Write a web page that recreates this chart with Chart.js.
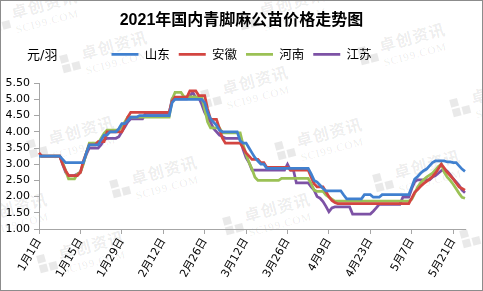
<!DOCTYPE html>
<html>
<head>
<meta charset="utf-8">
<script src="https://cdn.jsdelivr.net/npm/chart.js@4/dist/chart.umd.min.js"></script>
<style>
html,body{margin:0;padding:0;background:#fff;}
#wrap{position:relative;width:483px;height:291px;overflow:hidden;background:#fff;}
#wm{position:absolute;left:0;top:0;width:483px;height:291px;}
canvas{position:absolute;left:0;top:0;}
#frame{position:absolute;left:0;top:0;width:483px;height:291px;box-sizing:border-box;border:1px solid #8c8c8c;pointer-events:none;}
#unit{position:absolute;left:27px;top:44px;font:13px "DejaVu Sans","Noto Sans CJK SC",sans-serif;color:#000;}
.u{position:absolute;transform:translate(-50%,-50%) rotate(-15deg);white-space:nowrap;color:rgba(0,0,0,0.085);}
.u .ic{display:inline-block;width:18px;height:18px;vertical-align:middle;margin-right:4px;background:
 linear-gradient(rgba(0,0,0,0.085),rgba(0,0,0,0.085)) 0 0/8px 8px no-repeat,
 linear-gradient(rgba(0,0,0,0.085),rgba(0,0,0,0.085)) 0 10px/8px 8px no-repeat,
 linear-gradient(rgba(0,0,0,0.085),rgba(0,0,0,0.085)) 10px 10px/8px 8px no-repeat;}
.u .t{display:inline-block;vertical-align:middle;line-height:1;}
.u .a{font:bold 16px "Noto Sans CJK SC",sans-serif;letter-spacing:1px;}
.u .b{font:11px "Liberation Serif",serif;letter-spacing:1px;}
</style>
</head>
<body>
<div id="wrap">
  <div id="wm"></div>
  <canvas id="c" width="483" height="291"></canvas>
  <div id="unit">元/羽</div>
  <div id="frame"></div>
</div>
<script>
// ---- data ----
const seriesNames = ['山东', '安徽', '河南', '江苏'];
const tickLabels = ['1月1日','1月15日','1月29日','2月12日','2月26日','3月12日','3月26日','4月9日','4月23日','5月7日','5月21日'];
const yTicks = [1.00, 5.50, 0.50]; // min, max, step

const monthLen = [31, 28, 31, 30, 31];
const categories = [];
for (let m = 0; m < monthLen.length && categories.length < 145; m++)
  for (let d = 1; d <= monthLen[m] && categories.length < 145; d++)
    categories.push((m + 1) + '月' + d + '日');

const shandong = [
3.25,3.25,3.25,3.25,3.25,3.25,3.25,3.25,
3.15,
3.05,3.05,3.05,3.05,3.05,3.05,3.05,
3.35,
3.6,3.6,3.6,3.6,
3.75,
3.9,3.9,
4.0,4.0,4.0,
4.1,
4.25,4.25,
4.35,
4.45,4.45,4.45,
4.5,4.5,4.5,4.5,4.5,4.5,4.5,4.5,4.5,4.5,4.5,
4.9,
5.0,5.0,5.0,5.0,5.0,5.0,5.0,5.0,5.0,5.0,
4.9,4.6,4.4,4.3,4.2,4.05,
4.0,4.0,4.0,4.0,4.0,4.0,
3.72,3.65,3.65,3.5,3.35,3.2,3.1,3.0,3.0,
2.87,2.87,2.87,2.87,2.87,2.87,2.87,2.87,2.87,2.87,2.87,2.87,2.87,2.87,2.87,
2.7,2.5,2.45,2.35,2.25,
2.18,2.18,2.18,2.18,2.18,2.18,
2.05,
1.93,1.93,1.93,1.93,1.93,1.93,
2.06,2.06,2.06,
1.98,1.98,1.98,
2.06,2.06,2.06,2.06,2.06,2.06,2.06,2.06,2.06,2.06,
2.3,2.54,2.62,2.72,2.8,2.85,2.95,3.05,
3.1,3.1,3.1,3.1,
3.07,3.07,3.05,3.05,2.95,2.85,2.78
];

const anhui = [
3.35,
3.25,3.25,3.25,3.25,3.25,3.25,3.25,
3.0,2.8,
2.65,2.65,2.65,2.65,
2.75,3.1,3.35,
3.6,3.6,3.6,
3.7,3.7,3.7,
4.0,4.0,4.0,4.0,4.0,4.0,
4.2,4.45,
4.6,4.6,4.6,4.6,4.6,4.6,4.6,4.6,4.6,4.6,4.6,4.6,4.6,4.6,
4.95,
5.07,5.07,5.07,5.07,5.07,
5.26,5.26,5.26,
5.12,5.12,5.12,
4.7,
4.38,4.38,4.38,
4.1,3.8,
3.65,3.65,3.65,3.65,3.65,3.65,
3.5,3.35,3.25,
3.15,3.15,3.15,
3.05,3.05,
2.9,2.9,2.9,2.9,2.9,2.9,2.9,2.9,
2.82,2.82,2.82,2.82,2.82,2.82,2.82,
2.6,2.4,
2.3,2.3,2.3,
2.15,2.0,1.88,1.82,
1.78,1.78,1.78,1.78,1.78,1.78,1.78,1.78,1.78,1.78,1.78,1.78,1.78,1.78,1.78,1.78,1.78,1.78,1.78,1.78,1.78,1.78,1.78,1.78,1.78,
1.95,2.13,2.22,2.32,2.4,2.47,2.54,2.62,2.72,2.86,3.0,2.88,2.75,2.65,2.55,2.42,2.3,2.25,2.2
];

const henan = [
3.25,3.25,3.25,3.25,3.25,3.25,3.25,3.25,
3.05,2.8,
2.55,2.55,2.55,
2.7,2.75,3.0,3.35,
3.65,3.65,3.65,3.65,
3.8,3.95,
4.05,4.05,4.05,4.05,4.05,
4.15,4.3,
4.45,4.45,4.45,4.45,4.45,4.45,4.45,4.45,4.45,4.45,4.45,4.45,4.45,4.45,4.45,
5.0,
5.22,5.22,5.22,
5.08,5.08,5.08,5.08,5.08,5.08,5.08,
4.7,4.3,
4.12,4.12,4.12,4.12,
3.97,3.97,3.97,3.97,3.97,3.97,3.97,
3.6,3.3,3.05,2.85,2.6,
2.5,2.5,2.5,2.5,2.5,2.5,2.5,2.5,
2.56,2.56,2.56,2.56,2.56,2.56,2.56,2.56,2.56,2.56,
2.4,2.2,
2.16,2.16,2.16,
2.05,1.98,1.92,
1.86,1.86,1.86,1.86,1.86,1.86,1.86,1.86,1.86,1.86,1.86,1.86,1.86,1.86,1.86,1.86,1.86,1.86,1.86,1.86,1.86,1.86,1.86,1.86,1.86,1.86,
1.92,2.1,2.3,2.42,2.52,2.6,2.66,2.72,2.82,2.93,3.0,2.75,2.6,2.5,2.38,2.24,2.1,1.98,1.95
];

const jiangsu = [
3.25,3.25,3.25,3.25,3.25,3.25,3.25,3.25,
3.0,2.75,
2.65,2.65,2.65,
2.7,2.75,3.05,3.3,
3.5,3.5,3.5,3.5,
3.6,3.75,
3.8,3.8,3.8,3.8,
3.85,4.0,4.15,4.3,
4.4,4.4,4.4,4.4,4.4,
4.57,4.57,4.57,4.57,4.57,4.57,4.57,4.57,4.57,
5.02,5.02,5.02,5.02,5.02,5.02,
5.1,5.22,
5.05,5.05,
4.85,4.6,4.45,4.3,4.1,4.0,3.9,3.85,
3.8,3.8,3.8,3.8,3.8,3.8,
3.45,3.2,3.05,
2.82,2.82,2.82,2.82,2.82,2.82,2.82,2.82,2.82,2.82,2.82,2.82,
3.0,
2.82,2.82,
2.42,2.42,2.42,2.42,2.42,
2.3,2.2,2.0,1.95,1.85,1.7,1.53,
1.65,
1.68,1.68,1.68,1.68,1.68,1.68,
1.46,1.46,1.46,1.46,1.46,1.46,1.46,
1.55,1.65,
1.76,1.76,1.76,1.76,1.76,1.76,1.76,1.76,
1.98,1.98,1.98,
2.25,2.45,
2.52,2.52,2.52,2.52,2.52,
2.6,2.65,2.72,2.8,2.85,2.78,2.68,2.55,2.45,2.35,2.2,2.12
];

const seriesValues = [shandong, anhui, henan, jiangsu];
const seriesColors = ['#4080CF', '#D34541', '#9BC155', '#7D52A5'];

// ---- watermark ----
const wmCenters = [[35,12],[283,10],[105,53],[403,45],[246,88],[495,97],[72,138],[320,140],[155,178],[418,172],[5,215],[268,215],[505,228],[82,253]];
const wm = document.getElementById('wm');
wmCenters.forEach(([x, y]) => {
  const d = document.createElement('div');
  d.className = 'u';
  d.style.left = x + 'px';
  d.style.top = y + 'px';
  d.innerHTML = '<span class="ic"></span><span class="t"><div class="a">卓创资讯</div><div class="b">SCI99.COM</div></span>';
  wm.appendChild(d);
});

// ---- chart ----
const FONT = '"DejaVu Sans","Noto Sans CJK SC",sans-serif';
Chart.defaults.font.family = FONT;
Chart.defaults.color = '#000';

new Chart(document.getElementById('c'), {
  type: 'line',
  data: {
    labels: categories,
    datasets: seriesNames.map((n, i) => ({
      label: n,
      data: seriesValues[i],
      borderColor: seriesColors[i],
      backgroundColor: seriesColors[i],
      borderWidth: 2.75,
      pointRadius: 0,
      tension: 0,
      fill: false
    }))
  },
  options: {
    responsive: false,
    animation: false,
    layout: { padding: { left: 0, right: 0, top: 0, bottom: 0 } },
    plugins: {
      tooltip: { enabled: false },
      title: {
        display: true,
        text: '2021年国内青脚麻公苗价格走势图',
        color: '#000',
        font: { size: 16, weight: 'bold', family: '"Liberation Sans","Noto Sans CJK SC",sans-serif' },
        padding: { top: 11, bottom: 9 }
      },
      legend: {
        display: true,
        position: 'top',
        labels: {
          usePointStyle: true,
          pointStyle: 'line',
          pointStyleWidth: 27,
          font: { size: 12.5, family: '"Noto Sans CJK SC",sans-serif' },
          color: '#000',
          padding: 9
        }
      }
    },
    scales: {
      x: {
        type: 'category',
        position: 'bottom',
        afterFit(s) { s.height = 62; },
        grid: { drawOnChartArea: false, drawTicks: true, tickLength: 5, color: '#a6a6a6' },
        border: { color: '#a6a6a6', width: 1 },
        ticks: {
          autoSkip: false,
          minRotation: 60,
          maxRotation: 60,
          padding: 2,
          font: { size: 11 },
          color: '#000',
          callback(v, i) {
            const lab = categories[i];
            return tickLabels.includes(lab) ? lab : null;
          }
        }
      },
      y: {
        min: yTicks[0],
        max: yTicks[1],
        afterFit(s) { s.width = 39; },
        grid: { drawOnChartArea: false, drawTicks: true, tickLength: 5, color: '#a6a6a6' },
        border: { color: '#a6a6a6', width: 1 },
        ticks: {
          stepSize: yTicks[2],
          padding: 4,
          font: { size: 11 },
          color: '#000',
          callback(v) { return Number(v).toFixed(2); }
        }
      },
      xTop: {
        type: 'linear', axis: 'x', position: 'top', display: true,
        grid: { display: false }, border: { display: false }, ticks: { display: false },
        afterFit(s) { s.height = 12.5; }
      },
      yRight: {
        type: 'linear', axis: 'y', position: 'right', display: true,
        grid: { display: false }, border: { display: false }, ticks: { display: false },
        afterFit(s) { s.width = 18; }
      }
    }
  }
});
</script>
</body>
</html>
